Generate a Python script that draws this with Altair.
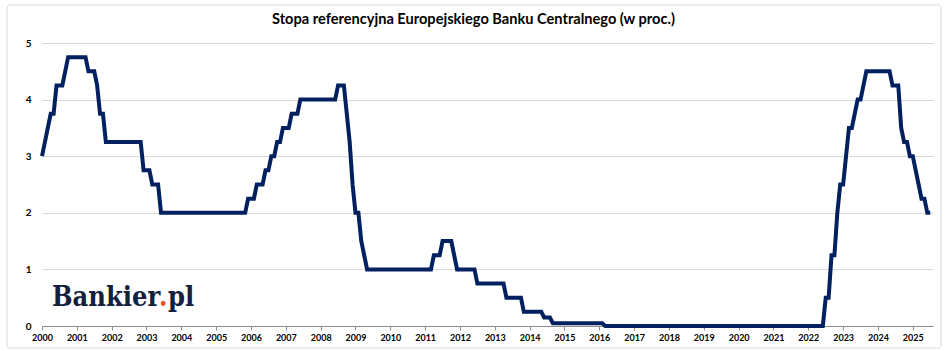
import altair as alt
import pandas as pd

# Monthly reference rate (value at end of each month), Jan 2000 - Jul 2025
years = list(range(2000, 2026))
r2000 = [3.0, 3.25, 3.5, 3.75, 3.75, 4.25, 4.25, 4.25, 4.5, 4.75, 4.75, 4.75]
r2001 = [4.75, 4.75, 4.75, 4.75, 4.5, 4.5, 4.5, 4.25, 3.75, 3.75, 3.25, 3.25]
r2002 = [3.25, 3.25, 3.25, 3.25, 3.25, 3.25, 3.25, 3.25, 3.25, 3.25, 3.25, 2.75]
r2003 = [2.75, 2.75, 2.5, 2.5, 2.5, 2.0, 2.0, 2.0, 2.0, 2.0, 2.0, 2.0]
r2004 = [2.0, 2.0, 2.0, 2.0, 2.0, 2.0, 2.0, 2.0, 2.0, 2.0, 2.0, 2.0]
r2005 = [2.0, 2.0, 2.0, 2.0, 2.0, 2.0, 2.0, 2.0, 2.0, 2.0, 2.0, 2.25]
r2006 = [2.25, 2.25, 2.5, 2.5, 2.5, 2.75, 2.75, 3.0, 3.0, 3.25, 3.25, 3.5]
r2007 = [3.5, 3.5, 3.75, 3.75, 3.75, 4.0, 4.0, 4.0, 4.0, 4.0, 4.0, 4.0]
r2008 = [4.0, 4.0, 4.0, 4.0, 4.0, 4.0, 4.25, 4.25, 4.25, 3.75, 3.25, 2.5]
r2009 = [2.0, 2.0, 1.5, 1.25, 1.0, 1.0, 1.0, 1.0, 1.0, 1.0, 1.0, 1.0]
r2010 = [1.0, 1.0, 1.0, 1.0, 1.0, 1.0, 1.0, 1.0, 1.0, 1.0, 1.0, 1.0]
r2011 = [1.0, 1.0, 1.0, 1.25, 1.25, 1.25, 1.5, 1.5, 1.5, 1.5, 1.25, 1.0]
r2012 = [1.0, 1.0, 1.0, 1.0, 1.0, 1.0, 0.75, 0.75, 0.75, 0.75, 0.75, 0.75]
r2013 = [0.75, 0.75, 0.75, 0.75, 0.5, 0.5, 0.5, 0.5, 0.5, 0.5, 0.25, 0.25]
r2014 = [0.25, 0.25, 0.25, 0.25, 0.25, 0.15, 0.15, 0.15, 0.05, 0.05, 0.05, 0.05]
r2015 = [0.05, 0.05, 0.05, 0.05, 0.05, 0.05, 0.05, 0.05, 0.05, 0.05, 0.05, 0.05]
r2016 = [0.05, 0.05, 0.0, 0.0, 0.0, 0.0, 0.0, 0.0, 0.0, 0.0, 0.0, 0.0]
r2017 = [0.0, 0.0, 0.0, 0.0, 0.0, 0.0, 0.0, 0.0, 0.0, 0.0, 0.0, 0.0]
r2018 = [0.0, 0.0, 0.0, 0.0, 0.0, 0.0, 0.0, 0.0, 0.0, 0.0, 0.0, 0.0]
r2019 = [0.0, 0.0, 0.0, 0.0, 0.0, 0.0, 0.0, 0.0, 0.0, 0.0, 0.0, 0.0]
r2020 = [0.0, 0.0, 0.0, 0.0, 0.0, 0.0, 0.0, 0.0, 0.0, 0.0, 0.0, 0.0]
r2021 = [0.0, 0.0, 0.0, 0.0, 0.0, 0.0, 0.0, 0.0, 0.0, 0.0, 0.0, 0.0]
r2022 = [0.0, 0.0, 0.0, 0.0, 0.0, 0.0, 0.5, 0.5, 1.25, 1.25, 2.0, 2.5]
r2023 = [2.5, 3.0, 3.5, 3.5, 3.75, 4.0, 4.0, 4.25, 4.5, 4.5, 4.5, 4.5]
r2024 = [4.5, 4.5, 4.5, 4.5, 4.5, 4.25, 4.25, 4.25, 3.5, 3.25, 3.25, 3.0]
r2025 = [3.0, 2.75, 2.5, 2.25, 2.25, 2.0, 2.0]

series = [r2000, r2001, r2002, r2003, r2004, r2005, r2006, r2007, r2008,
          r2009, r2010, r2011, r2012, r2013, r2014, r2015, r2016, r2017,
          r2018, r2019, r2020, r2021, r2022, r2023, r2024, r2025]
y_ticks = [0, 1, 2, 3, 4, 5]
title_text = "Stopa referencyjna Europejskiego Banku Centralnego (w proc.)"

rows = []
for yr, vals in zip(years, series):
    for m, v in enumerate(vals):
        rows.append({"t": yr + m / 12.0, "rate": v})
df = pd.DataFrame(rows)

NAVY = "#002060"
FONT = "Lato"
LOGO_FONT = "DejaVu Serif Condensed"

x_enc = alt.X(
    "t:Q",
    scale=alt.Scale(domain=[2000, 2025.58], nice=False, zero=False),
    axis=alt.Axis(values=years, format="d", grid=False, domain=True,
                  domainColor="#8c8c8c", ticks=True, tickColor="#8c8c8c",
                  tickSize=4, labelFont=FONT, labelFontWeight="bold",
                  labelFontSize=9, labelColor="#000000", labelPadding=3,
                  labelFlush=False, labelOverlap=False, title=None, zindex=0),
)
y_enc = alt.Y(
    "rate:Q",
    scale=alt.Scale(domain=[0, 5], nice=False),
    axis=alt.Axis(values=y_ticks, grid=True, gridColor="#d9d9d9",
                  domain=False, ticks=False, labelPadding=11,
                  labelFont=FONT, labelFontWeight="bold", labelFontSize=10,
                  labelColor="#000000", title=None, zindex=0),
)

line = alt.Chart(df).mark_line(color=NAVY, strokeWidth=4).encode(x=x_enc, y=y_enc)

deco = pd.DataFrame({"k": [1]})
border = alt.Chart(deco).mark_rect(fill=None, stroke="#d9d9d9", strokeWidth=1,
                                   cornerRadius=3).encode(
    x=alt.value(-35), x2=alt.value(899), y=alt.value(-38), y2=alt.value(305))

title = alt.Chart(deco).mark_text(font=FONT, fontWeight="bold", fontSize=14.6,
                                  color="#000000", align="center",
                                  baseline="middle").encode(
    x=alt.value(431.5), y=alt.value(-23), text=alt.value(title_text))

logo1 = alt.Chart(deco).mark_text(font=LOGO_FONT, fontWeight="bold",
                                  fontSize=27, color="#14213d", align="left",
                                  baseline="alphabetic").encode(
    x=alt.value(10), y=alt.value(263), text=alt.value("Bankier"))
logo_dot = alt.Chart(deco).mark_text(font=LOGO_FONT, fontWeight="bold",
                                     fontSize=27, color="#e8542a", align="left",
                                     baseline="alphabetic").encode(
    x=alt.value(117), y=alt.value(263), text=alt.value("."))
logo2 = alt.Chart(deco).mark_text(font=LOGO_FONT, fontWeight="bold",
                                  fontSize=27, color="#14213d", align="left",
                                  baseline="alphabetic").encode(
    x=alt.value(126), y=alt.value(263), text=alt.value("pl"))

chart = alt.layer(border, line, title, logo1, logo_dot, logo2).properties(
    width=891, height=283,
    padding={"left": 42, "top": 43, "right": 15, "bottom": 25},
    autosize=alt.AutoSizeParams(type="none"),
    background="white",
).configure_view(stroke=None)

chart.save("out.html", embed_options={"renderer": "svg", "actions": False})
